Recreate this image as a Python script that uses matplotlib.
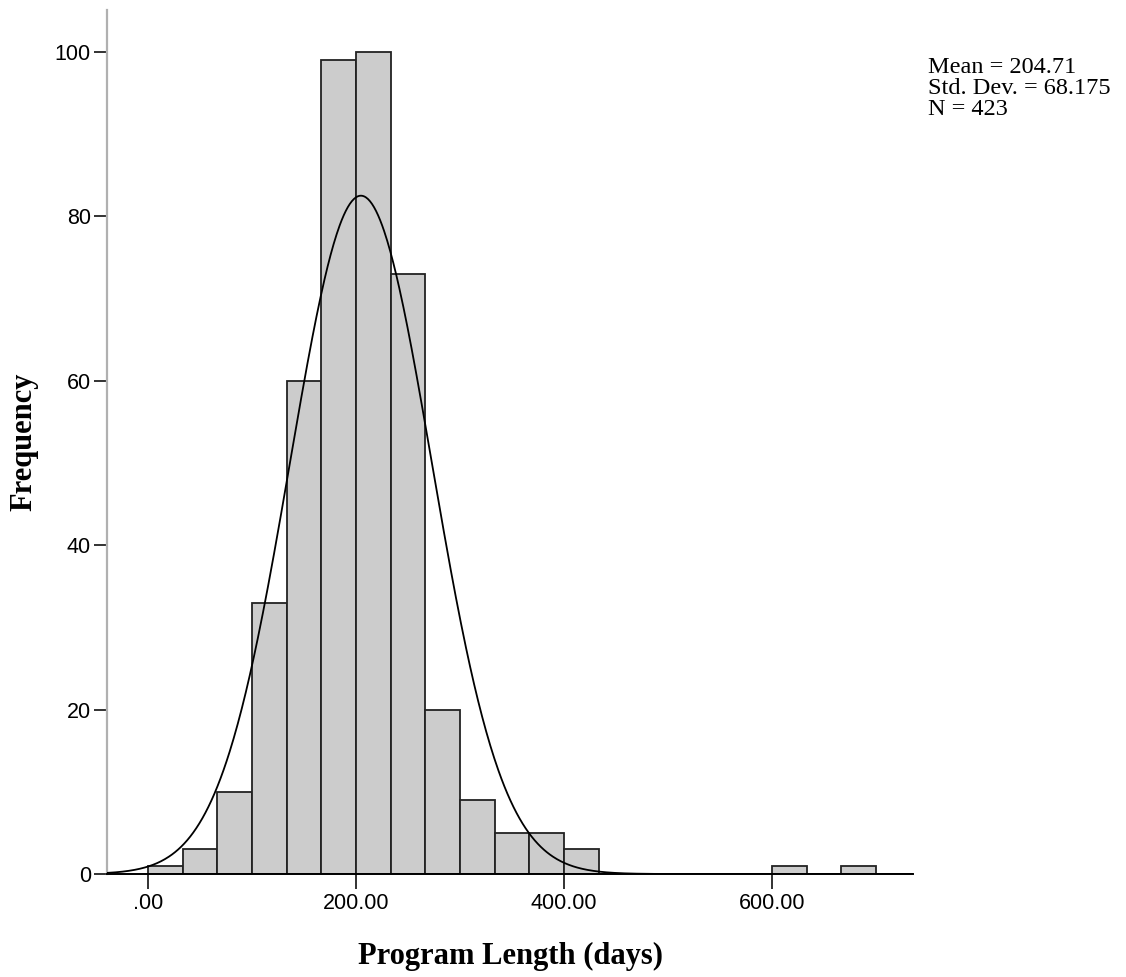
import numpy as np
import matplotlib
matplotlib.use("Agg")
import matplotlib.pyplot as plt

# Histogram of program lengths (days), bins of width 700/21
bin_width = 700.0 / 21.0
bin_starts = np.arange(21) * bin_width
counts = [1, 3, 10, 33, 60, 99, 100, 73, 20, 9, 5, 5, 3, 0, 0, 0, 0, 0, 1, 0, 1]

mean_val = 204.71
std_val = 68.175
n_val = 423

x_ticks = [0, 200, 400, 600]
x_tick_labels = [".00", "200.00", "400.00", "600.00"]
y_ticks = [0, 20, 40, 60, 80, 100]

fig = plt.figure(figsize=(11.26, 9.77), dpi=100)
ax = fig.add_axes([0.095, 0.1054, 0.716, 0.8844])

ax.bar(bin_starts, counts, width=bin_width, align="edge",
       color="#cccccc", edgecolor="#222222", linewidth=1.3, zorder=2)

# Fitted normal curve scaled to counts
xs = np.linspace(-40, 736, 800)
pdf = np.exp(-0.5 * ((xs - mean_val) / std_val) ** 2) / (std_val * np.sqrt(2 * np.pi))
ax.plot(xs, pdf * n_val * bin_width, color="black", linewidth=1.3, zorder=3)

ax.set_xlim(-39.4, 735.6)
ax.set_ylim(0, 105.1)

for side in ("top", "right"):
    ax.spines[side].set_visible(False)
ax.spines["left"].set_color("#b0b0b0")
ax.spines["left"].set_linewidth(1.6)
ax.spines["bottom"].set_color("black")
ax.spines["bottom"].set_linewidth(1.4)
ax.spines["bottom"].set_zorder(4)

ax.set_xticks(x_ticks)
ax.set_xticklabels(x_tick_labels, fontfamily="Liberation Sans", fontsize=15.5)
ax.set_yticks(y_ticks)
ax.set_yticklabels([str(v) for v in y_ticks], fontfamily="Liberation Sans", fontsize=15.5)
ax.tick_params(axis="x", direction="out", length=11, width=1.3, color="#222222", pad=3)
ax.tick_params(axis="y", direction="out", length=9.5, width=1.3, color="#222222", pad=2)

ax.set_xlabel("Program Length (days)", fontfamily="Liberation Serif",
              fontweight="bold", fontsize=22, labelpad=20)
ax.set_ylabel("Frequency", fontfamily="Liberation Serif",
              fontweight="bold", fontsize=22, labelpad=12)

stats_lines = [f"Mean = {mean_val:.2f}", f"Std. Dev. = {std_val:.3f}", f"N = {n_val}"]
for i, line in enumerate(stats_lines):
    fig.text(0.824, 0.9253 - i * 0.0215, line, fontfamily="Liberation Serif",
             fontsize=17.5, va="baseline", ha="left")

fig.savefig("out.png", dpi=100)
